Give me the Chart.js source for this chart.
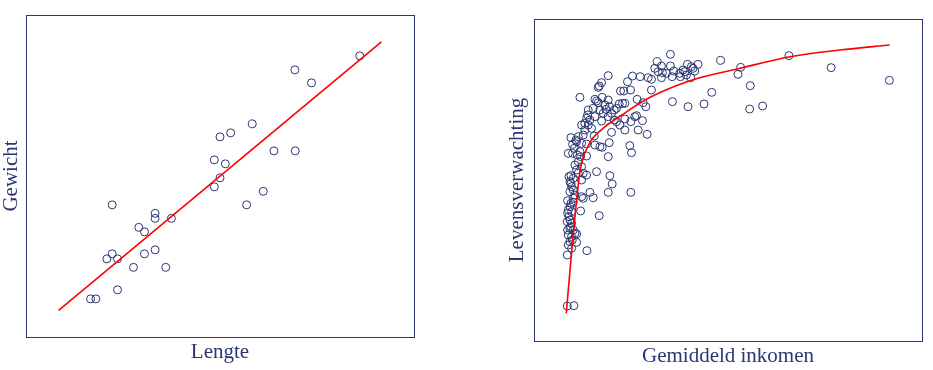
<!DOCTYPE html>
<html lang="nl">
<head>
    <meta charset="UTF-8">
    <title>Lengte / Gewicht en Inkomen / Levensverwachting</title>
    <script src="https://cdn.jsdelivr.net/npm/chart.js"></script>
    <style>
        body { margin: 0; background: #fff; }
        #wrap { position: relative; width: 933px; height: 370px; }
        #leftChart { position: absolute; left: 0; top: 0; }
        #rightChart { position: absolute; left: 466px; top: 0; }
    </style>
</head>
<body>
    <div id="wrap">
        <canvas id="leftChart" width="466" height="370"></canvas>
        <canvas id="rightChart" width="467" height="370"></canvas>
    </div>

    <script>
        // links: lengte (cm) tegen gewicht (kg)
        const lengte = [201.0, 191.25, 193.75, 184.85, 180.0, 181.6, 179.15, 180.8, 188.1, 191.3,
                        180.0, 179.15, 186.5, 184.0, 163.8, 170.25, 170.25, 172.7, 167.8, 168.65,
                        163.8, 163.0, 164.6, 168.65, 170.25, 167.0, 171.85, 164.6, 160.55, 161.35];
        const gewicht = [100.9, 98.1, 95.5, 87.3, 84.7, 85.5, 80.1, 79.3, 81.9, 81.9,
                         76.5, 74.7, 73.8, 71.1, 71.1, 69.4, 68.4, 68.4, 66.6, 65.7,
                         61.3, 60.3, 60.3, 61.3, 62.1, 58.6, 58.6, 54.1, 52.3, 52.3];
        const fitLengte = [155.75, 204.25];
        const fitGewicht = [50.0, 103.7];

        // rechts: gemiddeld inkomen (x1000) tegen levensverwachting (jaar)
        const inkomen = [21.35, 39.15, 28.9, 19.35, 25.5, 23.9, 20.0, 21.35, 19.0, 24.5,
                         23.25, 21.85, 20.15, 25.0, 23.5, 31.9, 31.5, 45.5, 54.25, 33.35,
                         27.55, 21.65, 24.0, 26.4, 33.25, 35.2, 15.65, 16.8, 18.0, 18.5,
                         14.9, 20.0, 21.6, 22.85, 24.4, 12.0, 11.0, 10.65, 10.5, 13.85,
                         14.35, 15.35, 18.5, 7.75, 10.0, 10.25, 10.5, 11.1, 12.0, 12.2,
                         13.65, 14.15, 14.5, 16.35, 17.25, 17.65, 11.65, 12.9, 13.25, 11.25,
                         9.0, 8.9, 8.75, 9.25, 8.5, 8.0, 9.5, 11.0, 12.0, 12.9,
                         13.75, 14.5, 14.5, 15.4, 16.0, 16.25, 17.15, 16.5, 17.85, 12.5,
                         9.9, 8.25, 7.5, 6.4, 7.15, 6.65, 8.0, 8.75, 10.0, 10.75,
                         11.1, 12.15, 6.0, 6.65, 7.35, 7.85, 8.75, 12.0, 15.25, 15.5,
                         8.0, 7.25, 6.4, 6.75, 7.5, 8.25, 8.75, 10.25, 12.25, 12.6,
                         6.25, 6.5, 6.75, 8.0, 6.25, 7.0, 8.0, 8.25, 9.25, 9.75,
                         12.0, 15.4, 5.9, 6.4, 6.75, 6.25, 6.0, 6.5, 7.85, 10.65,
                         5.85, 6.25, 6.5, 5.9, 6.25, 6.75, 7.0, 6.0, 6.5, 7.25,
                         6.25, 7.25, 6.5, 5.85, 8.8, 5.85, 6.85,
                         5.9, 6.1, 6.35, 6.6, 6.0, 6.75, 6.4, 6.1, 7.0, 7.5,
                         7.75, 6.9, 7.25, 8.5, 9.0, 9.75, 10.0, 10.75, 11.5, 12.5,
                         13.25, 19.5, 20.75, 23.75, 24.75, 22.75];
        const levensverwachting = [83.35, 83.15, 82.45, 82.25, 81.85, 81.85, 81.6, 81.6, 81.25, 81.5,
                         81.0, 80.85, 80.6, 80.85, 80.75, 81.4, 80.35, 81.35, 79.45, 78.65,
                         77.65, 76.25, 75.5, 75.9, 75.15, 75.6, 80.1, 80.0, 79.85, 79.6,
                         79.25, 79.85, 80.0, 80.0, 79.85, 80.15, 79.1, 78.6, 78.4, 77.85,
                         77.85, 78.0, 78.0, 76.9, 76.6, 76.35, 76.1, 76.9, 76.5, 75.5,
                         75.9, 76.0, 76.0, 76.6, 76.1, 75.5, 75.1, 75.0, 75.25, 74.5,
                         75.0, 74.25, 73.75, 73.5, 73.0, 72.75, 72.25, 73.35, 74.0, 73.5,
                         72.75, 73.65, 72.0, 73.25, 74.0, 74.15, 73.4, 72.0, 71.35, 71.65,
                         71.1, 71.25, 71.0, 70.85, 70.5, 69.85, 70.0, 69.9, 69.75, 69.5,
                         69.4, 70.1, 68.5, 68.5, 68.25, 68.0, 68.1, 68.0, 69.65, 68.6,
                         66.5, 66.0, 65.15, 64.75, 65.5, 65.5, 65.25, 65.75, 65.15, 63.9,
                         64.25, 63.5, 63.0, 64.5, 62.75, 62.25, 62.0, 61.75, 62.65, 61.85,
                         62.65, 62.65, 61.4, 61.0, 61.15, 60.5, 60.0, 59.75, 59.85, 59.15,
                         58.25, 58.5, 58.0, 57.0, 57.25, 57.0, 56.5, 56.25, 56.0, 56.4,
                         55.25, 55.15, 54.25, 53.25, 53.9, 45.6, 45.65,
                         59.5, 59.0, 57.5, 55.5, 54.75, 61.75, 64.0, 65.0, 66.75, 67.25,
                         68.75, 69.25, 70.25, 72.0, 72.75, 75.25, 74.0, 75.0, 75.75, 74.5,
                         73.25, 80.75, 80.5, 80.25, 81.25, 80.5];
        const fitInkomen = [5.7, 6.4, 7.15, 7.8, 9.05, 11.05, 14.05, 18.3, 24.3, 31.8, 39.3, 46.8, 54.3];
        const fitLeven = [44.5, 52.5, 60.5, 66.0, 69.75, 72.1, 74.25, 76.9, 79.4, 81.25, 83.0, 84.0, 84.75];

        const navy = '#2b3670';
        const red = '#ff0000';
        const serif = "'Liberation Serif', 'DejaVu Serif', serif";

        function toPoints(xs, ys) {
            return xs.map((x, i) => ({ x: x, y: ys[i] }));
        }

        // kader rond het plotgebied
        const boxPlugin = {
            id: 'box',
            afterDraw(chart) {
                const a = chart.chartArea;
                const ctx = chart.ctx;
                ctx.save();
                ctx.strokeStyle = navy;
                ctx.lineWidth = 1;
                ctx.strokeRect(Math.round(a.left) + 0.5, Math.round(a.top) + 0.5,
                               Math.round(a.right - a.left), Math.round(a.bottom - a.top));
                ctx.restore();
            }
        };

        function axis(text, min, max, pad) {
            return {
                min: min,
                max: max,
                grid: { display: false, drawTicks: false },
                border: { display: false },
                ticks: { display: false },
                title: {
                    display: true,
                    text: text,
                    color: navy,
                    font: { family: serif, size: 21, lineHeight: 1 },
                    padding: pad
                }
            };
        }

        function makeChart(id, pts, fit, smooth, xTitle, yTitle, xr, yr, layout, xPad, yPad) {
            return new Chart(document.getElementById(id), {
                type: 'scatter',
                data: {
                    datasets: [{
                        data: fit,
                        showLine: true,
                        borderColor: red,
                        borderWidth: 1.6,
                        pointRadius: 0,
                        cubicInterpolationMode: smooth ? 'monotone' : 'default',
                        fill: false
                    }, {
                        data: pts,
                        pointStyle: 'circle',
                        pointRadius: 4,
                        borderWidth: 1,
                        borderColor: navy,
                        backgroundColor: 'rgba(0,0,0,0)'
                    }]
                },
                options: {
                    responsive: false,
                    devicePixelRatio: 1,
                    animation: false,
                    layout: { padding: layout },
                    plugins: { legend: { display: false }, tooltip: { enabled: false } },
                    scales: {
                        x: axis(xTitle, xr[0], xr[1], xPad),
                        y: axis(yTitle, yr[0], yr[1], yPad)
                    }
                },
                plugins: [boxPlugin]
            });
        }

        makeChart('leftChart',
            toPoints(lengte, gewicht), toPoints(fitLengte, fitGewicht), false,
            'Lengte', 'Gewicht',
            [150.85, 209.15], [44.67, 109.07],
            { left: 0, right: 52, top: 15, bottom: 5.5 },
            { top: 4.5, bottom: 2 }, { top: 0.7, bottom: 4.3 });

        makeChart('rightChart',
            toPoints(inkomen, levensverwachting), toPoints(fitInkomen, fitLeven), true,
            'Gemiddeld inkomen', 'Levensverwachting',
            [0.85, 59.15], [40.35, 88.65],
            { left: 38, right: 11, top: 19, bottom: 1.5 },
            { top: 4.5, bottom: 2 }, { top: 2.5, bottom: 6.5 });
    </script>
</body>
</html>
